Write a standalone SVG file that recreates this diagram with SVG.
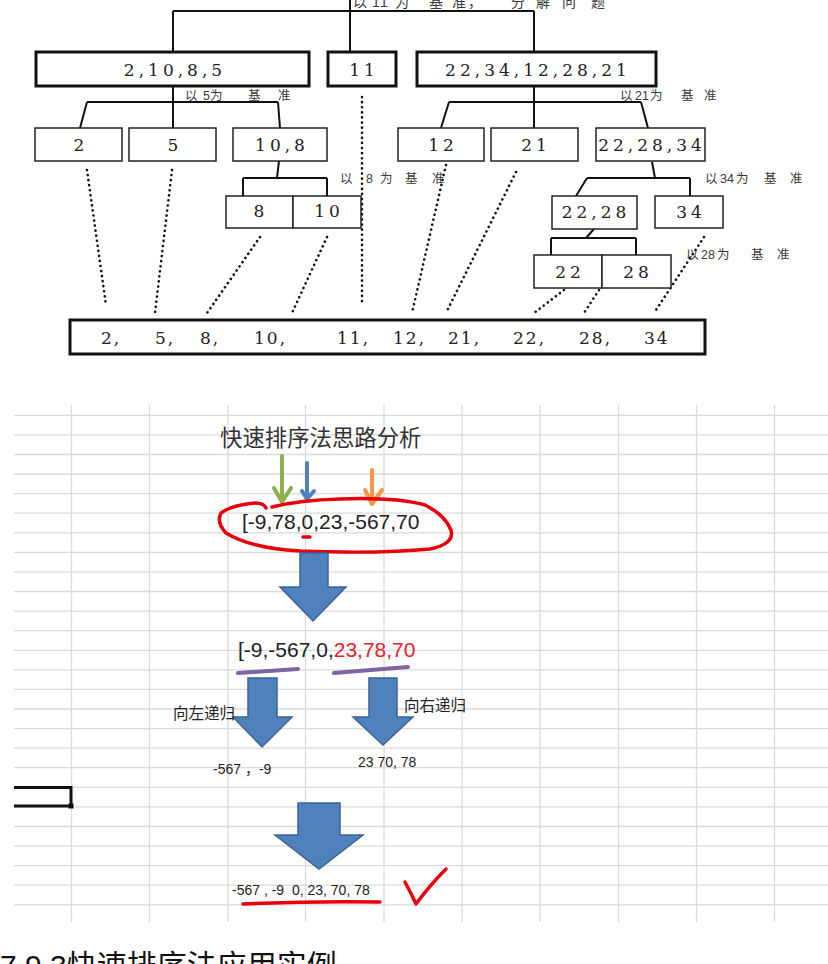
<svg xmlns="http://www.w3.org/2000/svg" width="828" height="964" viewBox="0 0 828 964">
<style>
.bx1{fill:#fff;stroke:#111;stroke-width:3}
.bx2{fill:#fff;stroke:#222;stroke-width:1.5}
.ln{fill:none;stroke:#111;stroke-width:2}
.dot{fill:none;stroke:#111;stroke-width:2.6;stroke-dasharray:0.1 5;stroke-linecap:round}
.num{font-family:'DejaVu Serif',serif;font-size:17px;fill:#222;letter-spacing:4px;text-anchor:middle}
.lab{font-family:'Liberation Sans','Noto Sans CJK SC',sans-serif;font-size:12.5px;fill:#3a3a3a}
.grid{fill:none;stroke:#dadada;stroke-width:1.3}
.barrow{fill:#4f81bd;stroke:#3a6496;stroke-width:1.5}
.txt{font-family:'Liberation Sans','Noto Sans CJK SC',sans-serif;fill:#222}
.cjk{font-family:'Noto Sans CJK SC',sans-serif;fill:#222}
</style>
<rect width="828" height="964" fill="#fff"/>

<!-- ===== Tree section ===== -->
<g id="connectors">
  <path class="ln" d="M350,0 V52 M173,11 H534 M173,11 V52 M534,11 V52"/>
  <path class="ln" d="M173,86 V128 M87,102 H278 M87,102 L80,128 M278,102 L280,128"/>
  <path class="ln" d="M534,86 V128 M449,102 H641 M449,102 L441,128 M641,102 L648,128"/>
  <path class="ln" d="M279,161 L277,178 M243,178 H327 M243,178 V196 M327,178 V196"/>
  <path class="ln" d="M652,162 L655,178 M587,178 H690 M587,178 L576,196 M690,178 V196"/>
  <path class="ln" d="M594,229 L586,238 M551,238 H636 M551,238 V255 M636,238 V255"/>
  <g id="dotted">
    <path class="dot" d="M87,170 L106,305"/>
    <path class="dot" d="M172,170 L155,313"/>
    <path class="dot" d="M260,237 L207,313"/>
    <path class="dot" d="M327,237 L292,313"/>
    <path class="dot" d="M362,97 V303"/>
    <path class="dot" d="M446,165 L412,313"/>
    <path class="dot" d="M516,172 L446,313"/>
    <path class="dot" d="M564,290 L534,313"/>
    <path class="dot" d="M599,290 L584,313"/>
    <path class="dot" d="M704,237 L654,313"/>
  </g>
</g>

<text class="lab" y="7" x="353 364 372 380 395 416 429 446 452 468 490 511 527 536 552 562 580 591" style="font-size:14px">以 11为 基 准， 分 解 问 题</text>

<g id="n_2_10_8_5"><rect class="bx1" x="36" y="52" width="273" height="34"/><text class="num" x="175" y="76">2,10,8,5</text></g>
<g id="n_11"><rect class="bx1" x="328" y="52" width="68" height="34"/><text class="num" x="364" y="76">11</text></g>
<g id="n_22_34_12_28_21"><rect class="bx1" x="417" y="52" width="239" height="34"/><text class="num" x="538" y="76">22,34,12,28,21</text></g>

<text class="lab" y="100" x="185 197 203 210 225 248 265 278">以 5为 基 准</text>
<text class="lab" y="100" x="620 632 635 642 650 665 681 696 704">以 21为 基 准</text>

<g id="n_2"><rect class="bx2" x="35" y="128" width="87" height="33"/><text class="num" x="81" y="151">2</text></g>
<g id="n_5"><rect class="bx2" x="129" y="128" width="87" height="33"/><text class="num" x="175" y="151">5</text></g>
<g id="n_10_8"><rect class="bx2" x="233" y="128" width="94" height="33"/><text class="num" x="282" y="151">10,8</text></g>
<g id="n_12"><rect class="bx2" x="398" y="128" width="86" height="33"/><text class="num" x="443" y="151">12</text></g>
<g id="n_21"><rect class="bx2" x="491" y="128" width="87" height="33"/><text class="num" x="536" y="151">21</text></g>
<g id="n_22_28_34"><rect class="bx2" x="596" y="128" width="109" height="33"/><text class="num" x="652" y="151">22,28,34</text></g>

<text class="lab" y="183" x="340 355 366 380 395 405 422 432">以 8为 基 准</text>
<text class="lab" y="183" x="705 717 720 727 736 752 764 780 790">以 34为 基 准</text>

<g id="n_8"><rect class="bx2" x="226" y="196" width="67" height="32"/><text class="num" x="261" y="217">8</text></g>
<g id="n_10"><rect class="bx2" x="293" y="196" width="68" height="32"/><text class="num" x="329" y="217">10</text></g>
<g id="n_22_28"><rect class="bx2" x="552" y="196" width="85" height="33"/><text class="num" x="596" y="218">22,28</text></g>
<g id="n_34"><rect class="bx2" x="655" y="196" width="68" height="32"/><text class="num" x="691" y="218">34</text></g>

<text class="lab" y="259" x="686 698 701 708 717 736 751 766 777">以 28为 基 准</text>

<g id="n_22"><rect class="bx2" x="534" y="255" width="68" height="33"/><text class="num" x="570" y="278">22</text></g>
<g id="n_28"><rect class="bx2" x="602" y="255" width="69" height="33"/><text class="num" x="638" y="278">28</text></g>

<g id="n_result">
  <rect class="bx1" x="70" y="320" width="635" height="34"/>
  <g style="font-family:'DejaVu Serif',serif;font-size:17px;fill:#222;letter-spacing:2px">
    <text x="101" y="344">2,</text>
    <text x="155" y="344">5,</text>
    <text x="200" y="344">8,</text>
    <text x="254" y="344">10,</text>
    <text x="337" y="344">11,</text>
    <text x="393" y="344">12,</text>
    <text x="448" y="344">21,</text>
    <text x="513" y="344">22,</text>
    <text x="579" y="344">28,</text>
    <text x="644" y="344">34</text>
  </g>
</g>

<!-- ===== Spreadsheet section ===== -->
<path class="grid" d="M71.5,405 V922 M149.5,405 V922 M228,405 V922 M305.5,405 V922 M384,405 V922 M462,405 V922 M540,405 V922 M618.5,405 V922 M696.5,405 V922 M774.5,405 V922
M14,415.3 H828 M14,434.9 H828 M14,454.5 H828 M14,474 H828 M14,493.6 H828 M14,513.2 H828 M14,532.8 H828 M14,552.4 H828 M14,571.9 H828 M14,591.5 H828 M14,611.1 H828 M14,630.7 H828 M14,650.3 H828 M14,669.8 H828 M14,689.4 H828 M14,709 H828 M14,728.6 H828 M14,748.2 H828 M14,767.7 H828 M14,787.3 H828 M14,806.9 H828 M14,826.5 H828 M14,846.1 H828 M14,865.6 H828 M14,885.2 H828 M14,904.8 H828"/>

<g id="cell_select">
  <path d="M14,787.5 H71 V806 H14" fill="none" stroke="#111" stroke-width="3"/>
  <rect x="68.5" y="803.5" width="5" height="5" fill="#111"/>
</g>

<g id="title2"><text class="cjk" x="220" y="446" style="font-size:22.4px;fill:#333">快速排序法思路分析</text></g>

<g id="pointer_arrows" fill="none" stroke-width="4" stroke-linecap="round" stroke-linejoin="round">
  <path d="M282,456 V502 M274,488 L282,502 L291,488" stroke="#8db04c"/>
  <path d="M307,463 V499 M302,491 L307,499 L314,491" stroke="#4f81bd"/>
  <path d="M372,470 V504 M365,490 L372,504 L382,490" stroke="#f79646"/>
</g>

<g id="array1">
  <text class="txt" x="242" y="529" style="font-size:21px">[-9,78,0,23,-567,70</text>
  <path d="M266,508 Q264,503 255,503 Q232,505 221,513 Q216,522 226,533 Q250,548 300,551 Q380,554 430,549 Q455,544 451,530 Q445,515 425,505 Q395,497 340,499 Q300,500 272,507" fill="none" stroke="#e8000b" stroke-width="3.5" stroke-linecap="round"/>
  <path d="M303,537 H310" stroke="#e8000b" stroke-width="3.5" stroke-linecap="round"/>
</g>

<g id="arrow_down1"><path class="barrow" d="M300,553 H328 V587 H346 L313,621 L280,587 H300 Z"/></g>

<g id="array2">
  <text class="txt" x="238" y="657" style="font-size:21px">[-9,-567,0,<tspan fill="#e8202a">23,78,70</tspan></text>
  <path d="M238,673 L298,669" stroke="#8064a2" stroke-width="4" stroke-linecap="round"/>
  <path d="M334,673 L408,667" stroke="#8064a2" stroke-width="4" stroke-linecap="round"/>
</g>

<g id="arrow_left"><path class="barrow" d="M248,678 H277 V717 H292 L262,747 L233,717 H248 Z"/><text class="cjk" x="173" y="719" style="font-size:15.5px">向左递归</text></g>
<g id="arrow_right"><path class="barrow" d="M369,678 H397 V717 H413 L383,745 L353,717 H369 Z"/><text class="cjk" x="404" y="711" style="font-size:15.5px">向右递归</text></g>

<text class="txt" x="213" y="774" style="font-size:14px;white-space:pre">-567 ，-9</text>
<text class="txt" x="358" y="767" style="font-size:14px">23 70, 78</text>

<g id="arrow_down2"><path class="barrow" d="M298,803 H340 V835 H363 L319,869 L275,835 H298 Z"/></g>

<g id="result2">
  <text class="txt" x="232" y="895" style="font-size:14px;white-space:pre">-567 , -9  0, 23, 70, 78</text>
  <path d="M243,904 Q310,901 380,902" fill="none" stroke="#e8000b" stroke-width="3.5" stroke-linecap="round"/>
  <path d="M405,882 Q411,893 416,904 Q430,885 446,869" fill="none" stroke="#e8000b" stroke-width="3.5" stroke-linecap="round" stroke-linejoin="round"/>
</g>

<text class="txt" x="0" y="976" style="font-size:30px;fill:#111">7.9.3快速排序法应用实例</text>
</svg>
